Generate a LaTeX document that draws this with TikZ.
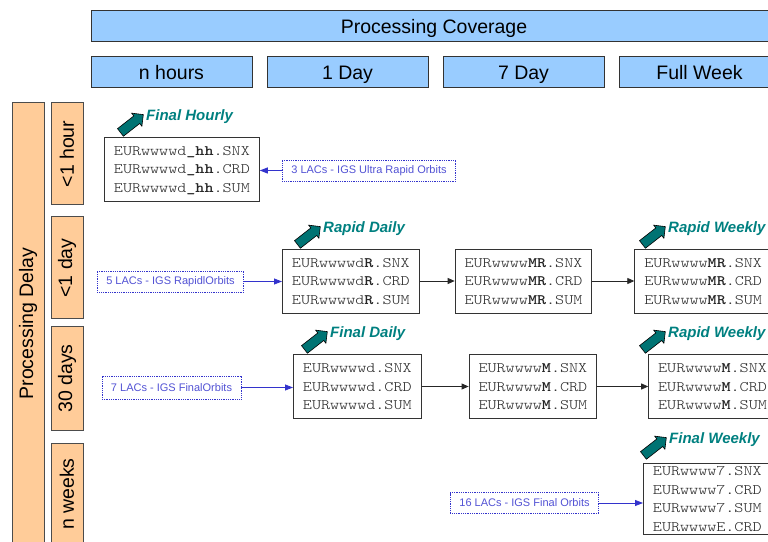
\documentclass[tikz,border=0pt]{standalone}
\usepackage{fontspec}
\setmainfont{Liberation Sans}
\setmonofont{Latin Modern Mono Light}[FakeStretch=1.19]
\usetikzlibrary{shapes.arrows, arrows.meta, positioning}

\definecolor{coverblue}{HTML}{99CCFF}
\definecolor{delayorange}{HTML}{FFCC99}
\definecolor{prodteal}{HTML}{008080}
\definecolor{lacblue}{HTML}{3333CC}

\begin{document}
\begin{tikzpicture}[
    x=1pt, y=1pt,
    header/.style={rectangle, draw=black!80, line width=1pt, fill=coverblue, minimum width=161pt, minimum height=31pt, text depth=0pt, font=\fontsize{19.5}{22}\selectfont},
    delaybox/.style={rectangle, draw=black!70, line width=1pt, fill=delayorange, rotate=90, minimum width=102pt, minimum height=32pt, font=\fontsize{19.5}{22}\selectfont},
    filebox/.style={rectangle, draw=black!80, line width=0.9pt, fill=white, align=left, inner xsep=9.5pt, minimum height=64pt, text depth=0pt, text=black!85, font=\fontsize{14.5}{18.5}\ttfamily},
    lacbox/.style={rectangle, draw=lacblue, densely dotted, line width=0.8pt, inner xsep=9pt, minimum height=21pt, text=lacblue!85, font=\fontsize{11}{13}\selectfont},
    tag/.style={anchor=west, inner sep=0pt, text=prodteal, font=\fontsize{15}{18}\bfseries\itshape},
    tagarrow/.style={single arrow, draw=black, line width=0.6pt, fill=prodteal!90!black, minimum height=29pt, inner xsep=0pt, inner ysep=4.5pt, single arrow head extend=3.5pt, single arrow tip angle=90, rotate=38},
    arrow/.style={-{Triangle[length=7pt, width=6pt]}, line width=0.8pt, black!85},
    feed/.style={-{Triangle[length=8pt, width=6pt]}, line width=0.8pt, lacblue}
]
\useasboundingbox (0,0) rectangle (768,541);
\clip (0,0) rectangle (768,541);

% coverage heads
\node[header, minimum width=686pt] (coverage) at (434,515) {Processing Coverage};
\node[header] (nhours) at (171.5,468.5) {n hours};
\node[header, right=14pt of nhours] (oneday) {1 Day};
\node[header, right=14pt of oneday] (sevenday) {7 Day};
\node[header, right=14pt of sevenday] (fullweek) {Full Week};

% delay rows
\node[delaybox, minimum width=441pt] (delay) at (28,217.5) {Processing Delay};
\node[delaybox] (lthour) at (67,387) {<1 hour};
\node[delaybox] (ltday) at (67,273) {<1 day};
\node[delaybox, minimum width=103pt] (thirty) at (67,162.5) {30 days};
\node[delaybox] (nweeks) at (67,47) {n weeks};

% products
\node[filebox, anchor=west] (hourly) at (104,372) {EURwwwwd\textbf{\_hh}.SNX\\EURwwwwd\textbf{\_hh}.CRD\\EURwwwwd\textbf{\_hh}.SUM};
\node[filebox, anchor=west] (rapid) at (282,260) {EURwwwwd\textbf{R}.SNX\\EURwwwwd\textbf{R}.CRD\\EURwwwwd\textbf{R}.SUM};
\node[filebox, right=35pt of rapid] (rapidmr) {EURwwww\textbf{MR}.SNX\\EURwwww\textbf{MR}.CRD\\EURwwww\textbf{MR}.SUM};
\node[filebox, right=42pt of rapidmr] (rapidweek) {EURwwww\textbf{MR}.SNX\\EURwwww\textbf{MR}.CRD\\EURwwww\textbf{MR}.SUM};
\node[filebox, anchor=west] (final) at (293,154.5) {EURwwwwd.SNX\\EURwwwwd.CRD\\EURwwwwd.SUM};
\node[filebox, right=47pt of final] (finalm) {EURwwww\textbf{M}.SNX\\EURwwww\textbf{M}.CRD\\EURwwww\textbf{M}.SUM};
\node[filebox, right=51pt of finalm] (finalmweek) {EURwwww\textbf{M}.SNX\\EURwwww\textbf{M}.CRD\\EURwwww\textbf{M}.SUM};
\node[filebox, anchor=north west] (finalweek) at (643,78) {EURwwww7.SNX\\EURwwww7.CRD\\EURwwww7.SUM\\EURwwwwE.CRD};

% product tags
\node[tag] (hourlytag) at (146,424) {Final Hourly};
\node[tag] (rapidtag) at (323,312) {Rapid Daily};
\node[tag] (rapidweektag) at (668,312) {Rapid Weekly};
\node[tag] (finaltag) at (330,207) {Final Daily};
\node[tag] (finalmweektag) at (668,207) {Rapid Weekly};
\node[tag] (finalweektag) at (669,101) {Final Weekly};
\node[tagarrow] (hourlyup) at ([shift={(-16,-8)}]hourlytag.west) {};
\node[tagarrow] (rapidup) at ([shift={(-16,-8)}]rapidtag.west) {};
\node[tagarrow] (rapidweekup) at ([shift={(-16,-8)}]rapidweektag.west) {};
\node[tagarrow] (finalup) at ([shift={(-16,-8)}]finaltag.west) {};
\node[tagarrow] (finalmweekup) at ([shift={(-16,-8)}]finalmweektag.west) {};
\node[tagarrow] (finalweekup) at ([shift={(-16,-8)}]finalweektag.west) {};

% analysis centres
\node[lacbox] (ultralac) at (369,370.5) {3 LACs - IGS Ultra Rapid Orbits};
\node[lacbox] (rapidlac) at (170.5,259.5) {5 LACs - IGS RapidlOrbits};
\node[lacbox, minimum height=23pt] (finallac) at (171.5,153.5) {7 LACs - IGS FinalOrbits};
\node[lacbox] (weeklac) at (524.5,38) {16 LACs - IGS Final Orbits};

\draw[feed] (ultralac.west) -- (ultralac.west -| hourly.east);
\draw[feed] (rapidlac.east) -- (rapidlac.east -| rapid.west);
\draw[feed] (finallac.east) -- (finallac.east -| final.west);
\draw[feed] (weeklac.east) -- (weeklac.east -| finalweek.west);

\draw[arrow] (rapid) -- (rapidmr);
\draw[arrow] (rapidmr) -- (rapidweek);
\draw[arrow] (final) -- (finalm);
\draw[arrow] (finalm) -- (finalmweek);

\end{tikzpicture}
\end{document}
